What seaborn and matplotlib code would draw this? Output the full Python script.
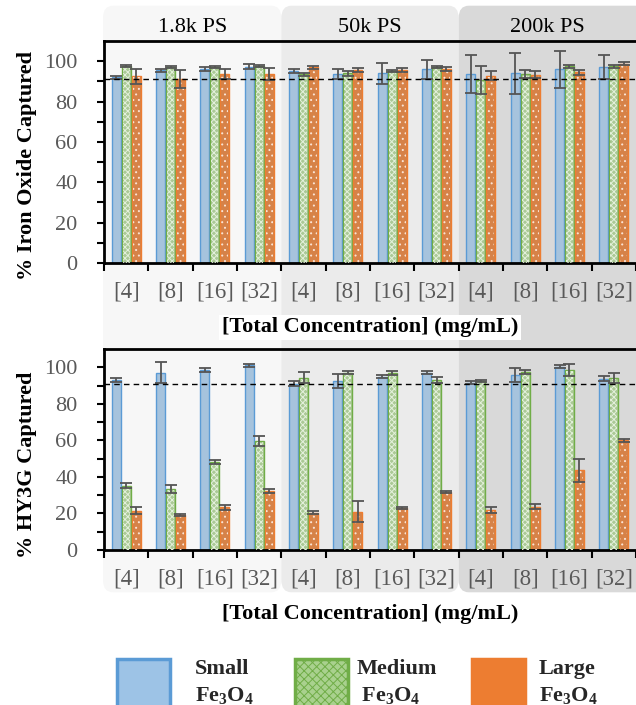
import numpy as np
import pandas as pd
import matplotlib
matplotlib.use("Agg")
import matplotlib.pyplot as plt
from matplotlib.patches import Patch, FancyBboxPatch
from matplotlib.ticker import FixedLocator, NullFormatter
import seaborn as sns

# ---- data -------------------------------------------------------------
groups = ["1.8k PS", "50k PS", "200k PS"]
conc_labels = ["[4]", "[8]", "[16]", "[32]"]
sizes = ["Small", "Medium", "Large"]

iron_small = [92.0, 95.5, 96.0, 97.2, 95.0, 93.6, 93.9, 95.9, 93.6, 93.9, 95.9, 97.2]
iron_small_err = [0.8, 0.7, 1.0, 1.3, 1.0, 2.6, 5.0, 4.6, 9.5, 10.0, 9.3, 5.8]
iron_medium = [97.5, 97.2, 97.2, 97.4, 93.6, 93.9, 95.2, 96.9, 90.8, 93.6, 97.5, 97.5]
iron_medium_err = [0.5, 0.5, 0.5, 0.5, 0.7, 1.0, 0.5, 0.5, 7.0, 2.0, 0.8, 0.8]
iron_large = [92.6, 91.0, 93.6, 93.6, 97.0, 95.4, 95.5, 96.0, 92.9, 93.4, 94.5, 98.7]
iron_large_err = [3.7, 4.5, 2.5, 3.1, 0.8, 1.0, 1.0, 1.0, 2.0, 1.5, 1.3, 0.7]

dye_small = [93.0, 97.1, 98.5, 101.1, 91.0, 92.5, 94.9, 97.1, 91.6, 95.6, 100.4, 93.8]
dye_small_err = [1.0, 5.7, 1.0, 0.8, 1.3, 4.0, 1.0, 0.8, 0.8, 3.8, 1.0, 1.2]
dye_medium = [35.2, 33.3, 48.0, 59.5, 94.3, 97.1, 96.7, 93.0, 92.3, 97.4, 98.5, 94.1]
dye_medium_err = [1.5, 2.0, 1.0, 2.8, 3.0, 0.8, 1.0, 1.5, 0.6, 1.0, 3.3, 2.5]
dye_large = [21.6, 19.0, 23.4, 32.2, 20.5, 21.0, 22.9, 31.7, 22.0, 23.8, 43.6, 60.0]
dye_large_err = [1.8, 0.5, 1.3, 1.0, 0.7, 5.7, 0.7, 0.5, 1.5, 1.5, 6.4, 0.8]

threshold = 91

# ---- styling ----------------------------------------------------------
sns.set_theme(style="white")
serif = ["Liberation Serif", "DejaVu Serif"]
plt.rcParams["font.family"] = serif
plt.rcParams["mathtext.fontset"] = "custom"
plt.rcParams["mathtext.rm"] = "Liberation Serif:bold"
plt.rcParams["mathtext.it"] = "Liberation Serif:bold"
plt.rcParams["mathtext.bf"] = "Liberation Serif:bold"
plt.rcParams["hatch.linewidth"] = 0.7

face = {"Small": "#9dc3e6", "Medium": "#a9d18e", "Large": "#ed7d31"}
edge = {"Small": "#5b9bd5", "Medium": "#70ad47", "Large": "#ed7d31"}
hatch = {"Small": None, "Medium": "xxxxxx", "Large": "..."}
hatch_col = {"Small": None, "Medium": "#e4f1dc", "Large": "#fbe3d3"}
tick_grey = "#595959"

W, H = 636, 705
fig = plt.figure(figsize=(W / 100, H / 100), dpi=100)

ax_left, ax_right = 104 / W, 1.0
ax_top = fig.add_axes([ax_left, 1 - 263 / H, ax_right - ax_left, 222 / H])
ax_bot = fig.add_axes([ax_left, 1 - 550 / H, ax_right - ax_left, 201 / H])

cats = [f"{g} {c}" for g in groups for c in conc_labels]
tick_text = conc_labels * len(groups)


def build_frame(small, medium, large):
    rows = []
    for i, c in enumerate(cats):
        rows.append((c, "Small", small[i]))
        rows.append((c, "Medium", medium[i]))
        rows.append((c, "Large", large[i]))
    return pd.DataFrame(rows, columns=["cat", "size", "value"])


def draw_panel(ax, small, medium, large, errs, ylabel):
    df = build_frame(small, medium, large)
    sns.barplot(data=df, x="cat", y="value", hue="size", order=cats,
                hue_order=sizes, palette=face, width=0.675, gap=0.11,
                errorbar=None, legend=False, ax=ax, zorder=2)
    containers = list(ax.containers)
    # bar containers are ordered by hue level
    for size, container, err in zip(sizes, containers, errs):
        xs, hs = [], []
        for bar in container:
            bar.set_edgecolor(edge[size])
            bar.set_linewidth(1.0)
            xs.append(bar.get_x() + bar.get_width() / 2)
            hs.append(bar.get_height())
            if hatch[size]:
                ax.bar(bar.get_x() + bar.get_width() / 2, bar.get_height() - 0.6,
                       width=bar.get_width() * 0.8, facecolor="none",
                       edgecolor=hatch_col[size], hatch=hatch[size],
                       linewidth=0, zorder=3)
        ax.errorbar(xs, hs, yerr=err, fmt="none", ecolor="#555555",
                    elinewidth=1.3, capsize=4, capthick=1.3, zorder=4)

    ax.axhline(threshold, color="black", ls=(0, (4, 3)), lw=1.0, zorder=5)
    ax.set_xlim(-0.5, len(cats) - 0.5)
    ax.set_ylim(0, 110)
    ax.set_facecolor("none")

    ax.yaxis.set_major_locator(FixedLocator([0, 20, 40, 60, 80, 100]))
    ax.yaxis.set_minor_locator(FixedLocator([10, 30, 50, 70, 90]))
    ax.tick_params(axis="y", which="both", direction="out", length=5,
                   width=1.5, color="black", labelsize=16,
                   labelcolor=tick_grey, left=True, pad=14)

    ax.xaxis.set_major_locator(FixedLocator(np.arange(-0.5, len(cats), 1.0)))
    ax.xaxis.set_major_formatter(NullFormatter())
    ax.set_xticks(np.arange(len(cats)), labels=tick_text, minor=True)
    ax.tick_params(axis="x", which="major", direction="out", length=6,
                   width=1.5, color="black", bottom=True)
    ax.tick_params(axis="x", which="minor", length=0, labelsize=16.5,
                   labelcolor=tick_grey, pad=13)

    for side in ["left", "bottom", "top"]:
        ax.spines[side].set_visible(True)
        ax.spines[side].set_color("black")
        ax.spines[side].set_linewidth(2.0)
    ax.spines["right"].set_visible(False)

    ax.set_ylabel(ylabel, fontsize=16, fontweight="bold", color="black")
    ax.set_xlabel("[Total Concentration] (mg/mL)", fontsize=16,
                  fontweight="bold", color="black", labelpad=11,
                  bbox=dict(facecolor="white", edgecolor="none", pad=2))


draw_panel(ax_top, iron_small, iron_medium, iron_large,
           [iron_small_err, iron_medium_err, iron_large_err],
           "% Iron Oxide Captured")
draw_panel(ax_bot, dye_small, dye_medium, dye_large,
           [dye_small_err, dye_medium_err, dye_large_err],
           "% HY3G Captured")
ax_top.yaxis.set_label_coords(-0.125, 0.437)
ax_bot.yaxis.set_label_coords(-0.125, 0.425)

# ---- shaded polymer panels behind both axes --------------------------
panel_colors = ["#f7f7f7", "#ebebeb", "#d9d9d9"]
fig.canvas.draw()
to_fig = fig.transFigure.inverted()
y_lo, y_hi = 1 - 590 / H, 1 - 8 / H
for gi, (g, col) in enumerate(zip(groups, panel_colors)):
    x0_data, x1_data = gi * 4 - 0.5, gi * 4 + 3.5
    x0 = to_fig.transform(ax_top.transData.transform((x0_data, 0)))[0]
    x1 = to_fig.transform(ax_top.transData.transform((x1_data, 0)))[0]
    if gi == 0:
        x0 -= 1 / W
    if gi == len(groups) - 1:
        x1 += 20 / W
    r = 10 / W
    box = FancyBboxPatch((x0 + r, y_lo + r * W / H), x1 - x0 - 2 * r,
                         y_hi - y_lo - 2 * r * W / H,
                         boxstyle=f"round,pad={r}", transform=fig.transFigure,
                         facecolor=col, edgecolor="none", zorder=-10,
                         mutation_aspect=H / W)
    fig.patches.append(box)
    fig.text((x0 + min(x1, 1.0)) / 2, 1 - 28 / H, g, ha="center",
             va="center", fontsize=16, color="black")

# ---- legend: one entry per particle size ----------------------------
labels = ["Small\nFe$_3$O$_4$", "Medium\n Fe$_3$O$_4$", "Large\nFe$_3$O$_4$"]
legend_x = [117 / W, 295 / W, 472 / W]
legend_pad = [1.1, 0.35, 0.6]
for s, lab, lx, tp in zip(sizes, labels, legend_x, legend_pad):
    h = Patch(facecolor=face[s], edgecolor=edge[s], linewidth=2.5,
              hatch=None if s == "Small" else ("xxxx" if s == "Medium" else ".."))
    leg = fig.legend([h], [lab], loc="lower left",
                     bbox_to_anchor=(lx, -0.004), frameon=False, borderpad=0,
                     borderaxespad=0,
                     prop={"family": serif, "weight": "bold", "size": 16},
                     handlelength=2.4, handleheight=3.0, handletextpad=tp)
    for t in leg.get_texts():
        t.set_linespacing(1.35)

fig.savefig("out.png", dpi=100)
